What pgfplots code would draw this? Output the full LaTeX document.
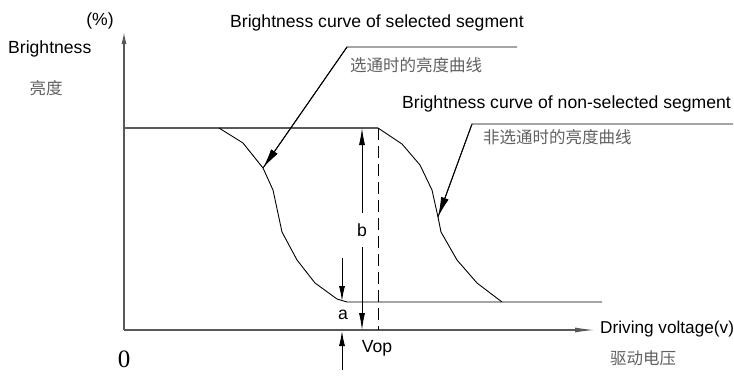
\documentclass[border=0pt]{standalone}
\usepackage{pgfplots}
\pgfplotsset{compat=1.18}
\usepackage{fontspec}
\setmainfont{Liberation Sans}
\newfontfamily\cjk{Noto Sans CJK SC}
\newfontfamily\serifz{Liberation Serif}
\usetikzlibrary{arrows.meta}
\definecolor{axgray}{gray}{0.35}
\definecolor{cjkgray}{gray}{0.38}
\newcommand\lt{\fontsize{17.6}{20}\selectfont}
\newcommand\ltd{\fontsize{17.2}{20}\selectfont}
\newcommand\ct{\cjk\fontsize{16.5}{18}\selectfont}
\begin{document}
\begin{tikzpicture}
\begin{axis}[
  scale only axis, width=734pt, height=380pt,
  xmin=0, xmax=734, ymin=0, ymax=380, y dir=reverse,
  hide axis, clip=false,
]
\coordinate (P1) at (0,0);
\coordinate (P2) at (734,380);
% axes
\addplot[axgray, line width=1.3pt, -{Latex[length=12pt,width=5pt]}] coordinates {(124,330) (124,32)};
\addplot[axgray, line width=1.3pt, -{Latex[length=20pt,width=5pt]}] coordinates {(124,330) (595,330)};
% 100% line
\addplot[axgray, line width=1.2pt] coordinates {(124,128) (378,128)};
% selected segment curve
\addplot[black, line width=0.9pt] coordinates {(219,128) (243,143) (263,168) (273,190) (282,232) (297,260) (315,283) (337,299) (347,302) (602,302)};
% non-selected segment curve
\addplot[black, line width=0.9pt] coordinates {(378,128) (402,144) (420,165) (432,190) (438,217) (441,232) (457,260) (477,283) (502,302)};
% dashed Vop line
\addplot[black, line width=0.9pt, dash pattern=on 12pt off 6pt] coordinates {(378,128) (378,330)};
% b arrows
\addplot[black, line width=0.9pt, -{Latex[length=17pt,width=6pt]}] coordinates {(362,213) (362,128)};
\addplot[black, line width=0.9pt, -{Latex[length=17pt,width=6pt]}] coordinates {(362,247) (362,330)};
% a arrows
\addplot[black, line width=0.9pt, -{Latex[length=15pt,width=6pt]}] coordinates {(342,258) (342,301)};
\addplot[black, line width=0.9pt, -{Latex[length=15pt,width=6pt]}] coordinates {(342,370) (342,331)};
% leader lines
\addplot[black, line width=0.9pt] coordinates {(517,47) (347,47) (263,168)};
\addplot[black, line width=0.9pt, -{Latex[length=20pt,width=8pt]}] coordinates {(347,47) (263,168)};
\addplot[black, line width=0.9pt] coordinates {(733,124) (472,124) (438,217)};
\addplot[black, line width=0.9pt, -{Latex[length=20pt,width=8pt]}] coordinates {(472,124) (438,217)};
% texts
\node[anchor=west, inner sep=0pt, font=\lt] at (8,49) {Brightness};
\node[inner sep=0pt, font=\lt] at (100,21) {(\%)};
\node[inner sep=0pt, text=cjkgray, font=\ct] at (46,88) {亮度};
\node[anchor=west, inner sep=0pt, font=\lt] at (230,23) {Brightness curve of selected segment};
\node[anchor=west, inner sep=0pt, text=cjkgray, font=\ct] at (350,65) {选通时的亮度曲线};
\node[anchor=west, inner sep=0pt, font=\lt] at (402,104) {Brightness curve of non-selected segment};
\node[anchor=west, inner sep=0pt, text=cjkgray, font=\ct] at (483,137) {非选通时的亮度曲线};
\node[inner sep=0pt, font=\lt] at (362,230) {b};
\node[inner sep=0pt, font=\lt] at (343,315) {a};
\node[inner sep=0pt, font=\lt] at (377,348) {Vop};
\node[anchor=west, inner sep=0pt, font=\ltd] at (600,329) {Driving voltage(v)};
\node[anchor=west, inner sep=0pt, text=cjkgray, font=\ct] at (610,358) {驱动电压};
\node[inner sep=0pt, font={\serifz\fontsize{25}{27}\selectfont}] at (124,359) {0};
\end{axis}
\pgfresetboundingbox
\useasboundingbox (P1) rectangle (P2);
\end{tikzpicture}
\end{document}
